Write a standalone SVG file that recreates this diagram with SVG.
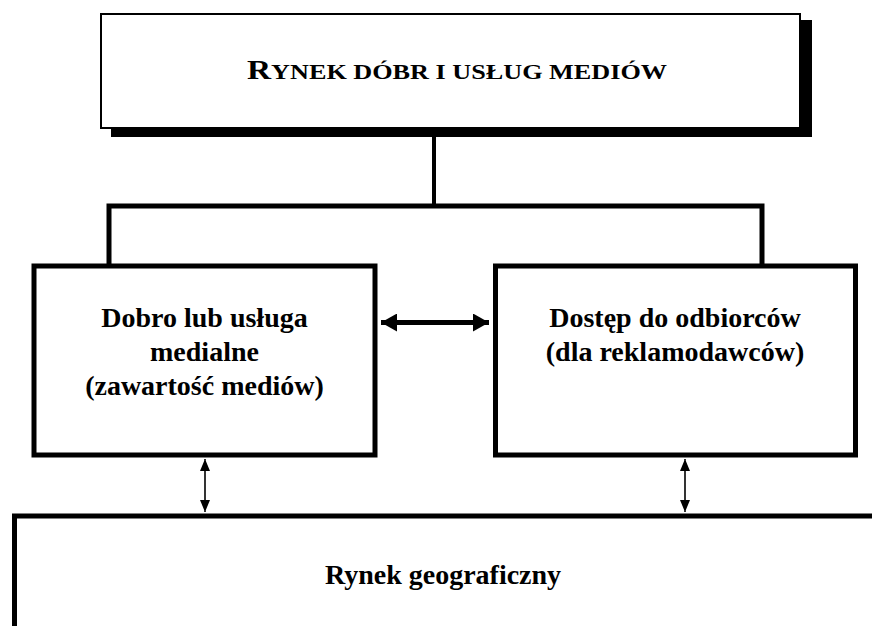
<svg xmlns="http://www.w3.org/2000/svg" width="872" height="626" viewBox="0 0 872 626">
<defs>
<style>
.box{fill:#fff;stroke:#000;stroke-width:5}
.t{font-family:"Liberation Serif","Times New Roman",serif;font-weight:bold;fill:#000;text-anchor:middle}
.big{font-size:28px}
.line{stroke:#000;fill:none}
</style>
<marker id="ah" viewBox="0 0 16 18" refX="16" refY="9" markerWidth="16" markerHeight="18" markerUnits="userSpaceOnUse" orient="auto-start-reverse"><path d="M0,0 L16,9 L0,18 Z" fill="#000"/></marker>
<marker id="as" viewBox="0 0 10 12" refX="12" refY="5" markerWidth="10" markerHeight="12" markerUnits="userSpaceOnUse" orient="auto-start-reverse"><path d="M0,0 L12,5 L0,10 Z" fill="#000"/></marker>
</defs>
<rect width="872" height="626" fill="#fff"/>
<g id="connectors">
<path class="line" d="M434,130 V206" stroke-width="4"/>
<path class="line" d="M109,264 V206 H762 V264" stroke-width="5"/>
<path class="line" d="M381,322.5 H489" stroke-width="5" marker-start="url(#ah)" marker-end="url(#ah)"/>
<path class="line" d="M205,459 V512" stroke-width="1.6" marker-start="url(#as)" marker-end="url(#as)"/>
<path class="line" d="M685,459 V512" stroke-width="1.6" marker-start="url(#as)" marker-end="url(#as)"/>
</g>
<g id="top">
<path d="M800,20 H812 V137 H111 V128 H800 Z" fill="#000"/>
<rect x="101" y="14" width="699" height="114" fill="#fff" stroke="#000" stroke-width="2"/>
<text class="t" x="457" y="79" font-size="22" textLength="420" lengthAdjust="spacingAndGlyphs"><tspan font-size="28">R</tspan>YNEK DÓBR I USŁUG MEDIÓW</text>
</g>
<g id="left">
<rect class="box" x="34" y="266" width="341" height="189"/>
<text class="t big" x="204.5" y="327">Dobro lub usługa</text>
<text class="t big" x="204.5" y="361">medialne</text>
<text class="t big" x="204.5" y="395">(zawartość mediów)</text>
</g>
<g id="right">
<rect class="box" x="495.5" y="266" width="360" height="189"/>
<text class="t big" x="675" y="327">Dostęp do odbiorców</text>
<text class="t big" x="675" y="361">(dla reklamodawców)</text>
</g>
<g id="bottom">
<rect class="box" x="14.5" y="516" width="900" height="200"/>
<text class="t big" x="443" y="584">Rynek geograficzny</text>
</g>
</svg>
